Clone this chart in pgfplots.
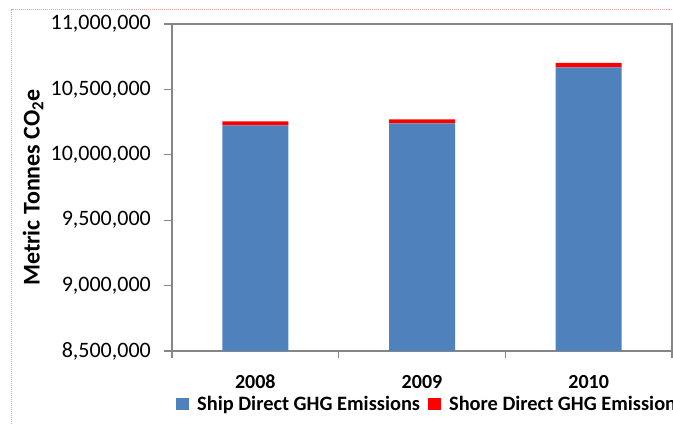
\documentclass[border=0pt]{standalone}
\usepackage{fontspec}
\setmainfont{Carlito}
\usepackage{pgfplots}
\pgfplotsset{compat=1.18}
\definecolor{shipblue}{HTML}{4F81BD}
\definecolor{shorered}{HTML}{FF0000}
\definecolor{axgray}{HTML}{868686}
\definecolor{borderpink}{HTML}{F2A0A0}
\begin{document}
\begin{tikzpicture}
\path[use as bounding box] (0,0) rectangle (673bp,424bp);
\draw[borderpink, densely dotted, line width=1bp] (11.5bp,0) -- (11.5bp,414bp) -- (673bp,414bp);
\begin{axis}[
  at={(172bp,73bp)}, anchor=south west,
  scale only axis, width=500bp, height=327bp,
  ybar stacked, bar width=66bp,
  xmin=-0.5, xmax=2.5,
  ymin=8500000, ymax=11000000,
  xtick={0,1,2}, xticklabels={2008,2009,2010},
  minor xtick={-0.5,0.5,1.5,2.5},
  ytick={8500000,9000000,9500000,10000000,10500000,11000000},
  scaled y ticks=false,
  /pgf/number format/fixed,
  /pgf/number format/1000 sep={,},
  /pgf/number format/assume math mode=true,
  axis line style={axgray, line width=1.2bp},
  tick style={axgray, line width=1.2bp},
  tick align=outside,
  major tick length=8bp, minor tick length=7bp,
  major x tick style={draw=none},
  minor x tick style={draw=axgray},
  ytick pos=left, xtick pos=bottom,
  yticklabel style={font=\fontsize{22bp}{26bp}\selectfont, anchor=east, inner sep=0pt, xshift=-13bp},
  xticklabel style={font=\bfseries\fontsize{20bp}{24bp}\selectfont, anchor=center, yshift=-23bp},
  ylabel={Metric Tonnes CO\textsubscript{2}e},
  ylabel style={font=\bfseries\fontsize{24bp}{28bp}\selectfont, at={(axis description cs:-0.278,0.5)}, anchor=center},
  legend columns=2,
  legend style={draw=none, fill=none, at={(axis description cs:0.008,-0.163)}, anchor=west, inner sep=0pt,
    font=\bfseries\fontsize{20.4bp}{24bp}\selectfont,
    nodes={inner sep=0pt},
    /tikz/every even column/.append style={column sep=8bp}},
  legend image code/.code={\fill[#1] (0bp,-6bp) rectangle (13bp,6bp); \path (21bp,0bp);},
  clip=true,
]
\addplot[fill=shipblue, draw=none] coordinates {(0,10225000) (1,10240000) (2,10668000)};
\addplot[fill=shorered, draw=none] coordinates {(0,30000) (1,30000) (2,34000)};
\legend{Ship Direct GHG Emissions, Shore Direct GHG Emissions}
\end{axis}
\end{tikzpicture}
\end{document}
